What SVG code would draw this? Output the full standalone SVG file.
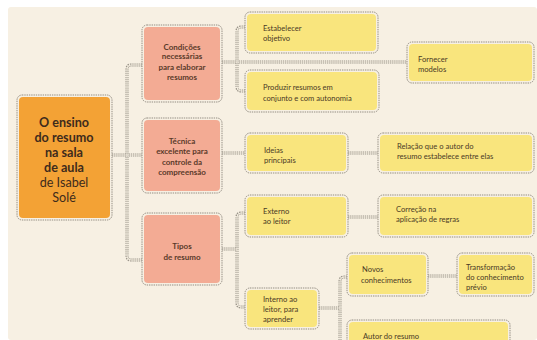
<svg xmlns="http://www.w3.org/2000/svg" width="537" height="340" viewBox="0 0 537 340">
<style>
.bd{fill:none;stroke:#938d83;stroke-width:1;stroke-dasharray:1.4 0.9}
.or{fill:#f3a235}
.pk{fill:#f3ab94}
.yl{fill:#f9e57d}
.cb{fill:none;stroke:#9c968b;stroke-width:3;stroke-dasharray:1.3 0.8}
.ci{fill:none;stroke:#f2ebdd;stroke-width:1}
.mt{font-family:Lato,"Open Sans",sans-serif;font-size:12.6px;fill:#3e2b1c;text-anchor:middle}
.pt{font-family:Lato,"Open Sans",sans-serif;font-size:8px;font-weight:700;fill:#5a3a2a;text-anchor:middle}
.yt{font-family:Lato,"Open Sans",sans-serif;font-size:7.6px;fill:#4a3a26}
</style>
<rect x="0" y="0" width="537" height="340" fill="#ffffff"/>
<rect x="8" y="7" width="529" height="333" rx="3" fill="#f7f0e3"/>
<g id="connectors">
<path class="cb" d="M112,155 H142 M142,65 H131 Q127,65 127,69 V256 Q127,260 131,260 H142 M222,62 H407 M245,27 H241 Q237,27 237,31 V87 Q237,91 241,91 H245 M222,153 H245 M348,153 H378 M222,249 H237 M245,213 H241 Q237,213 237,217 V303 Q237,307 241,307 H245 M348,217 H378 M319,308 H340 M347,277 H344 Q340,277 340,281 V340 M428,276 H457"/>
<path class="ci" d="M112,155 H142 M142,65 H131 Q127,65 127,69 V256 Q127,260 131,260 H142 M222,62 H407 M245,27 H241 Q237,27 237,31 V87 Q237,91 241,91 H245 M222,153 H245 M348,153 H378 M222,249 H237 M245,213 H241 Q237,213 237,217 V303 Q237,307 241,307 H245 M348,217 H378 M319,308 H340 M347,277 H344 Q340,277 340,281 V340 M428,276 H457"/>
</g>
<g id="main">
<rect class="or" x="19" y="97" width="91" height="121" rx="4"/>
<rect class="bd" x="17" y="95" width="95" height="125" rx="5"/>
<text class="mt" font-weight="700" x="64" y="127">O ensino</text>
<text class="mt" font-weight="700" x="64" y="142">do resumo</text>
<text class="mt" font-weight="700" x="64" y="157">na sala</text>
<text class="mt" font-weight="700" x="64" y="172">de aula</text>
<text class="mt" x="64" y="187">de Isabel</text>
<text class="mt" x="64" y="202">Solé</text>
</g>
<g id="p1">
<rect class="pk" x="144" y="27" width="76" height="73" rx="4"/>
<rect class="bd" x="142" y="25" width="80" height="77" rx="5"/>
<text class="pt" x="182" y="50">Condições</text>
<text class="pt" x="182" y="59">necessárias</text>
<text class="pt" x="182" y="70">para elaborar</text>
<text class="pt" x="182" y="80">resumos</text>
</g>
<g id="p2">
<rect class="pk" x="144" y="120" width="76" height="71" rx="4"/>
<rect class="bd" x="142" y="118" width="80" height="75" rx="5"/>
<text class="pt" x="182" y="144">Técnica</text>
<text class="pt" x="182" y="154">excelente para</text>
<text class="pt" x="182" y="165">controle da</text>
<text class="pt" x="182" y="175">compreensão</text>
</g>
<g id="p3">
<rect class="pk" x="144" y="215" width="76" height="68" rx="4"/>
<rect class="bd" x="142" y="213" width="80" height="72" rx="5"/>
<text class="pt" x="182" y="249">Tipos</text>
<text class="pt" x="182" y="260">de resumo</text>
</g>
<g id="y1">
<rect class="yl" x="247" y="14" width="129" height="37" rx="4"/>
<rect class="bd" x="245" y="12" width="133" height="41" rx="5"/>
<text class="yt" x="263" y="31">Estabelecer</text>
<text class="yt" x="263" y="41">objetivo</text>
</g>
<g id="y2">
<rect class="yl" x="247" y="72" width="130" height="38" rx="4"/>
<rect class="bd" x="245" y="70" width="134" height="42" rx="5"/>
<text class="yt" x="263" y="90">Produzir resumos em</text>
<text class="yt" x="263" y="101">conjunto e com autonomia</text>
</g>
<g id="y3">
<rect class="yl" x="409" y="44" width="123" height="37" rx="4"/>
<rect class="bd" x="407" y="42" width="127" height="41" rx="5"/>
<text class="yt" x="418" y="62">Fornecer</text>
<text class="yt" x="418" y="72">modelos</text>
</g>
<g id="y4">
<rect class="yl" x="247" y="135" width="99" height="36" rx="4"/>
<rect class="bd" x="245" y="133" width="103" height="40" rx="5"/>
<text class="yt" x="264" y="153">Ideias</text>
<text class="yt" x="264" y="163">principais</text>
</g>
<g id="y5">
<rect class="yl" x="380" y="135" width="152" height="36" rx="4"/>
<rect class="bd" x="378" y="133" width="156" height="40" rx="5"/>
<text class="yt" x="397" y="149">Relação que o autor do</text>
<text class="yt" x="397" y="159">resumo estabelece entre elas</text>
</g>
<g id="y6">
<rect class="yl" x="247" y="197" width="99" height="38" rx="4"/>
<rect class="bd" x="245" y="195" width="103" height="42" rx="5"/>
<text class="yt" x="263" y="214">Externo</text>
<text class="yt" x="263" y="224">ao leitor</text>
</g>
<g id="y7">
<rect class="yl" x="380" y="197" width="152" height="38" rx="4"/>
<rect class="bd" x="378" y="195" width="156" height="42" rx="5"/>
<text class="yt" x="396" y="212">Correção na</text>
<text class="yt" x="396" y="222">aplicação de regras</text>
</g>
<g id="y8">
<rect class="yl" x="247" y="290" width="70" height="37" rx="4"/>
<rect class="bd" x="245" y="288" width="74" height="41" rx="5"/>
<text class="yt" x="263" y="302">Interno ao</text>
<text class="yt" x="263" y="312">leitor, para</text>
<text class="yt" x="263" y="322">aprender</text>
</g>
<g id="y9">
<rect class="yl" x="349" y="255" width="77" height="39" rx="4"/>
<rect class="bd" x="347" y="253" width="81" height="43" rx="5"/>
<text class="yt" x="362" y="272">Novos</text>
<text class="yt" x="361" y="283">conhecimentos</text>
</g>
<g id="y10">
<rect class="yl" x="459" y="255" width="73" height="39" rx="4"/>
<rect class="bd" x="457" y="253" width="77" height="43" rx="5"/>
<text class="yt" x="466" y="270">Transformação</text>
<text class="yt" x="466" y="280">do conhecimento</text>
<text class="yt" x="466" y="290">prévio</text>
</g>
<g id="y11">
<rect class="yl" x="349" y="322" width="159" height="30" rx="4"/>
<rect class="bd" x="347" y="320" width="163" height="34" rx="5"/>
<text class="yt" x="363" y="339">Autor do resumo</text>
</g>
</svg>
